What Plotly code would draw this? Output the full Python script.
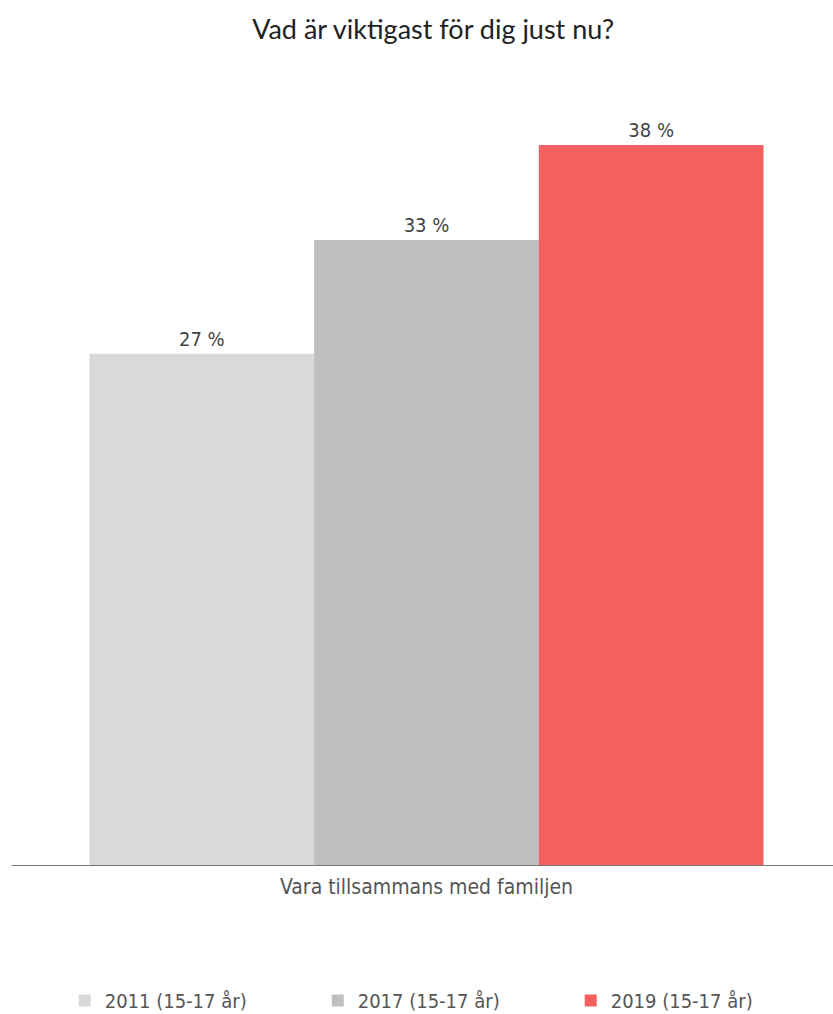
import plotly.graph_objects as go

# Survey answers: share who chose "Vara tillsammans med familjen"
category = ["Vara tillsammans med familjen"]
series_names = ["2011 (15-17 år)", "2017 (15-17 år)", "2019 (15-17 år)"]
series_values = [[27], [33], [38]]
series_colors = ["#d9d9d9", "#bfbfbf", "#f45f60"]

label_font = "DejaVu Sans Condensed, Open Sans, sans-serif"

fig = go.Figure()
for name, vals, color in zip(series_names, series_values, series_colors):
    fig.add_trace(go.Bar(
        name=name,
        x=category,
        y=vals,
        marker=dict(color=color, line=dict(width=0)),
        text=[f"{v} %" for v in vals],
        textposition="outside",
        textfont=dict(family=label_font, size=20, color="#444444"),
        cliponaxis=False,
    ))

fig.update_layout(
    width=833,
    height=1014,
    margin=dict(l=20, r=0, t=80, b=148, autoexpand=False),
    paper_bgcolor="white",
    plot_bgcolor="white",
    barmode="group",
    bargap=0.171,
    bargroupgap=0,
    title=dict(
        text="Vad är viktigast för dig just nu?",
        x=0.52, xanchor="center",
        y=0.98, yanchor="top",
        font=dict(family="Lato, sans-serif", size=27, color="#222222"),
    ),
    xaxis=dict(
        showline=False,
        showgrid=False,
        ticks="",
        ticklabelstandoff=6,
        tickfont=dict(family=label_font, size=21, color="#555555"),
    ),
    yaxis=dict(
        range=[0, 41.43],
        showgrid=False,
        showline=False,
        zeroline=False,
        showticklabels=False,
    ),
    legend=dict(
        orientation="h",
        x=0.055, xanchor="left",
        y=-0.171, yanchor="middle",
        entrywidth=208,
        entrywidthmode="pixels",
        font=dict(family=label_font, size=20, color="#555555"),
    ),
    showlegend=True,
)

# Baseline under the bars
fig.add_shape(
    type="line", xref="paper", yref="y",
    x0=-0.01, x1=1, y0=0, y1=0,
    line=dict(color="#777777", width=2),
)

fig.write_html("out.html")
